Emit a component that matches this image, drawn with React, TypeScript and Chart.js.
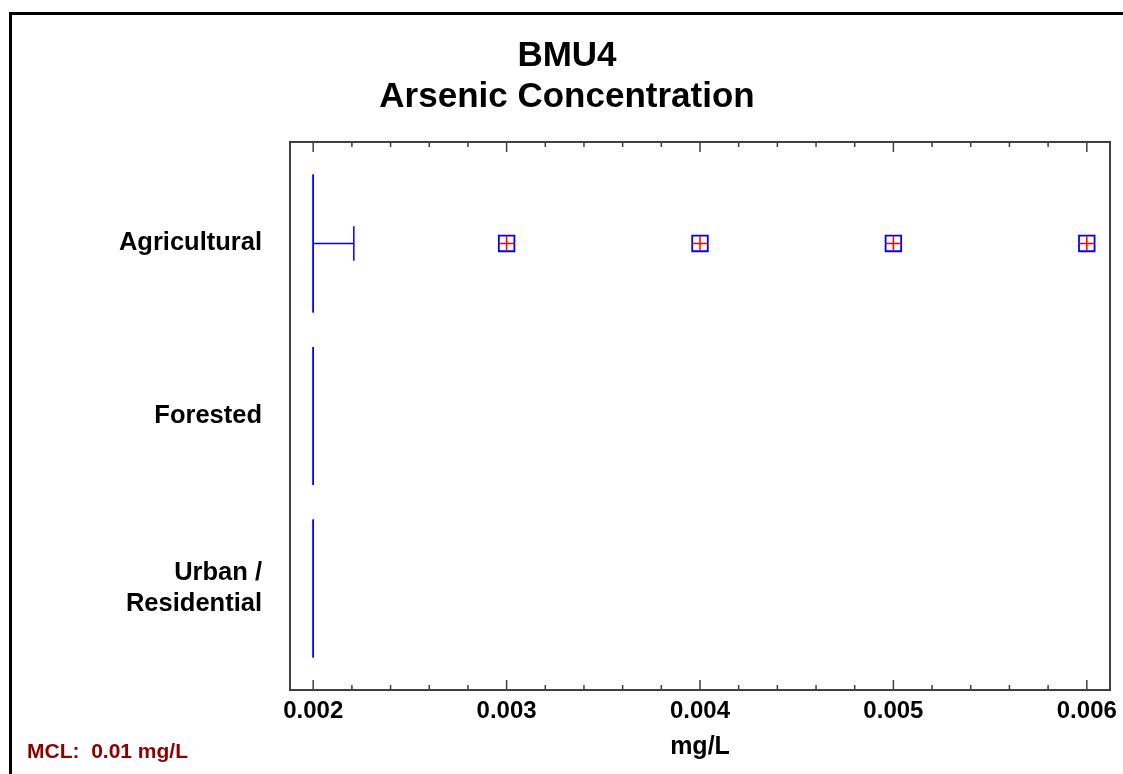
import React, { useEffect, useRef } from 'react';
import { Chart, registerables } from 'chart.js';

Chart.register(...registerables);

// ---- Data ----
const categories = ['Agricultural', 'Forested', 'Urban / Residential'];
const categoryLabels: (string | string[])[] = ['Agricultural', 'Forested', ['Urban /', 'Residential']];
const whiskerLow = [0.002, 0.002, 0.002];
const q1 = [0.002, 0.002, 0.002];
const median = [0.002, 0.002, 0.002];
const q3 = [0.002, 0.002, 0.002];
const whiskerHigh = [0.00221, 0.002, 0.002];
const outlierValues = [0.003, 0.004, 0.005, 0.006];
const outlierCategory = [0, 0, 0, 0];

const xMajorTicks = [0.002, 0.003, 0.004, 0.005, 0.006];
const xMinorTicks = [
  0.0022, 0.0024, 0.0026, 0.0028,
  0.0032, 0.0034, 0.0036, 0.0038,
  0.0042, 0.0044, 0.0046, 0.0048,
  0.0052, 0.0054, 0.0056, 0.0058,
];
const titleLines = ['BMU4', 'Arsenic Concentration'];
const xAxisTitle = 'mg/L';
const mclNote = 'MCL:  0.01 mg/L';

// ---- Style constants ----
const FONT = '"Liberation Sans", Arial, Helvetica, sans-serif';
const BLUE = '#0000ff';
const RED = '#ff0000';
const BOX_HALF = 0.4;
const CAP_HALF = 0.1;

function buildDatasets() {
  const ds: any[] = [];
  const seg = (pts: { x: number; y: number }[]) => ({
    type: 'scatter',
    data: pts,
    showLine: true,
    borderColor: BLUE,
    borderWidth: 1.5,
    pointRadius: 0,
    pointHoverRadius: 0,
    fill: false,
    tension: 0,
    order: 2,
  });
  categories.forEach((_, i) => {
    ds.push(
      seg([
        { x: q1[i], y: i - BOX_HALF },
        { x: q3[i], y: i - BOX_HALF },
        { x: q3[i], y: i + BOX_HALF },
        { x: q1[i], y: i + BOX_HALF },
        { x: q1[i], y: i - BOX_HALF },
      ])
    );
    ds.push(seg([{ x: median[i], y: i - BOX_HALF }, { x: median[i], y: i + BOX_HALF }]));
    if (whiskerHigh[i] > q3[i]) {
      ds.push(seg([{ x: q3[i], y: i }, { x: whiskerHigh[i], y: i }]));
      ds.push(seg([{ x: whiskerHigh[i], y: i - CAP_HALF }, { x: whiskerHigh[i], y: i + CAP_HALF }]));
    }
    if (whiskerLow[i] < q1[i]) {
      ds.push(seg([{ x: whiskerLow[i], y: i }, { x: q1[i], y: i }]));
      ds.push(seg([{ x: whiskerLow[i], y: i - CAP_HALF }, { x: whiskerLow[i], y: i + CAP_HALF }]));
    }
  });
  const outlierPts = outlierValues.map((v, k) => ({ x: v, y: outlierCategory[k] }));
  ds.push({
    type: 'scatter',
    data: outlierPts,
    pointStyle: 'rect',
    pointRadius: 11,
    pointHoverRadius: 11,
    pointBorderColor: BLUE,
    pointBackgroundColor: 'rgba(255,255,255,0)',
    pointBorderWidth: 1.8,
    order: 1,
  });
  ds.push({
    type: 'scatter',
    data: outlierPts,
    pointStyle: 'cross',
    pointRadius: 7.8,
    pointHoverRadius: 7.8,
    pointBorderColor: RED,
    pointBorderWidth: 1.5,
    order: 0,
  });
  return ds;
}

const framePlugin = {
  id: 'frameTicks',
  afterDraw(chart: any) {
    const { ctx, chartArea } = chart;
    const xs = chart.scales.x;
    const { left, right, top, bottom } = chartArea;
    ctx.save();
    ctx.strokeStyle = '#404040';
    ctx.lineWidth = 1.5;
    const tick = (v: number, len: number) => {
      const px = xs.getPixelForValue(v);
      ctx.beginPath();
      ctx.moveTo(px, top);
      ctx.lineTo(px, top + len);
      ctx.moveTo(px, bottom);
      ctx.lineTo(px, bottom - len);
      ctx.stroke();
    };
    xMajorTicks.forEach((v) => tick(v, 10));
    xMinorTicks.forEach((v) => tick(v, 5));
    ctx.lineWidth = 2;
    ctx.strokeRect(left, top, right - left, bottom - top);
    ctx.fillStyle = '#8B0000';
    ctx.font = `bold 21px ${FONT}`;
    ctx.textAlign = 'left';
    ctx.textBaseline = 'alphabetic';
    ctx.fillText(mclNote, 27, 758);
    ctx.restore();
  },
};

export default function App() {
  const ref = useRef<HTMLCanvasElement>(null);
  useEffect(() => {
    if (!ref.current) return;
    const chart = new Chart(ref.current, {
      type: 'scatter',
      data: { datasets: buildDatasets() },
      options: {
        animation: false,
        responsive: false,
        events: [],
        layout: { padding: { left: 24, right: 13, top: 0, bottom: 0 } },
        plugins: {
          legend: { display: false },
          tooltip: { enabled: false },
          title: {
            display: true,
            text: titleLines,
            color: '#000',
            font: { family: FONT, size: 35, weight: 'bold', lineHeight: 1.17 },
            padding: { top: 36, bottom: 24.1 },
          },
        },
        scales: {
          x: {
            type: 'linear',
            position: 'bottom',
            min: 0.00188,
            max: 0.00612,
            afterBuildTicks: (s: any) => {
              s.ticks = xMajorTicks.map((v) => ({ value: v }));
            },
            afterFit: (s: any) => {
              s.height = 84;
              s.paddingLeft = 0;
              s.paddingRight = 0;
            },
            grid: { display: false, drawTicks: false },
            border: { display: false },
            ticks: {
              autoSkip: false,
              maxRotation: 0,
              padding: 7,
              color: '#000',
              font: { family: FONT, size: 24, weight: 'bold' },
              callback: (v: any) => Number(v).toFixed(3),
            },
            title: {
              display: true,
              text: xAxisTitle,
              color: '#000',
              font: { family: FONT, size: 25, weight: 'bold', lineHeight: 1.2 },
              padding: { top: 0, bottom: 12 },
            },
          },
          y: {
            type: 'linear',
            position: 'left',
            reverse: true,
            min: -0.588,
            max: 2.588,
            afterBuildTicks: (s: any) => {
              s.ticks = categories.map((_, i) => ({ value: i }));
            },
            afterFit: (s: any) => {
              s.width = 266;
              s.paddingTop = 0;
              s.paddingBottom = 0;
            },
            grid: { display: false, drawTicks: false },
            border: { display: false },
            ticks: {
              autoSkip: false,
              padding: 28,
              color: '#000',
              font: { family: FONT, size: 25.5, weight: 'bold', lineHeight: 1.22 },
              callback: (v: any) => categoryLabels[Number(v)] ?? '',
            },
          },
        },
      } as any,
      plugins: [framePlugin],
    });
    return () => chart.destroy();
  }, []);

  return (
    <div
      style={{
        position: 'fixed',
        left: 0,
        top: 0,
        width: 1123,
        height: 774,
        overflow: 'hidden',
        background: '#fff',
      }}
    >
      <div
        style={{
          position: 'absolute',
          left: 9,
          top: 12,
          width: 2000,
          height: 2000,
          borderLeft: '3px solid #000',
          borderTop: '3px solid #000',
        }}
      />
      <canvas
        ref={ref}
        width={1123}
        height={774}
        style={{ position: 'absolute', left: 0, top: 0, width: 1123, height: 774 }}
      />
    </div>
  );
}
